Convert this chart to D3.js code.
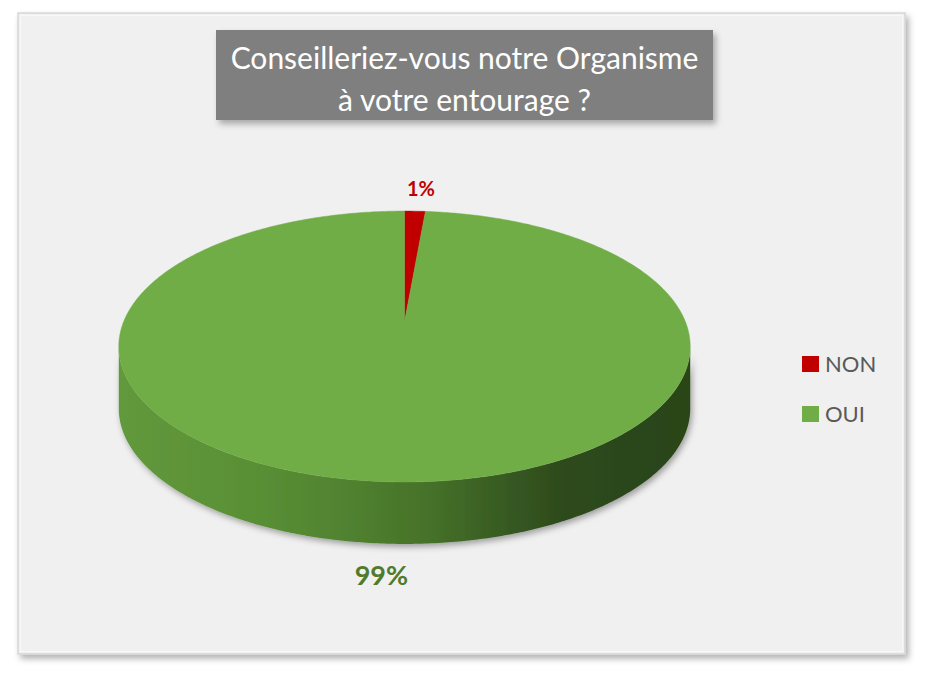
<!DOCTYPE html>
<html>
<head>
<meta charset="utf-8">
<script src="https://cdn.jsdelivr.net/npm/d3@7"></script>
<style>
  body { margin: 0; background: #ffffff; }
  svg { display: block; }
</style>
</head>
<body>
<div id="chart"></div>
<script>
// data
let categories = ["NON", "OUI"];
let values = [1.4, 98.6];
let colors = ["#c00000", "#70ad47"];
let title_lines = ["Conseilleriez-vous notre Organisme", "à votre entourage ?"];

let width = 928, height = 677;
let font = "Lato, 'Open Sans', sans-serif";

// 3d pie geometry (perspective fit to the picture)
let pie_cfg = { cx: 404.5, cy: 322, rx: 281, ry: 131, k: 0.181, depth: 62 };

let svg = d3.select("#chart").append("svg")
  .attr("width", width)
  .attr("height", height);

let defs = svg.append("defs");
let shadow = defs.append("filter").attr("id", "shadow")
  .attr("x", "-10%").attr("y", "-10%").attr("width", "130%").attr("height", "130%");
shadow.append("feDropShadow")
  .attr("dx", 3).attr("dy", 4).attr("stdDeviation", 3)
  .attr("flood-color", "#000").attr("flood-opacity", 0.3);

let pie_shadow = defs.append("filter").attr("id", "pie_shadow")
  .attr("x", "-10%").attr("y", "-10%").attr("width", "120%").attr("height", "130%");
pie_shadow.append("feDropShadow")
  .attr("dx", 2).attr("dy", 3).attr("stdDeviation", 3)
  .attr("flood-color", "#000").attr("flood-opacity", 0.35);

// wall shading, light on the left, dark on the right
let wall_grad = defs.append("linearGradient").attr("id", "wall_green")
  .attr("gradientUnits", "userSpaceOnUse")
  .attr("x1", pie_cfg.cx - 290).attr("x2", pie_cfg.cx + 290)
  .attr("y1", 0).attr("y2", 0);
[[0, "#62993c"], [0.25, "#598f35"], [0.42, "#4f802f"], [0.55, "#457029"],
 [0.67, "#375b22"], [0.78, "#2d491c"], [1, "#2b4419"]].forEach(s => {
  wall_grad.append("stop").attr("offset", s[0]).attr("stop-color", s[1]);
});

// chart area frame
svg.append("rect")
  .attr("x", 18).attr("y", 13)
  .attr("width", 887).attr("height", 641)
  .attr("fill", "#f0f0f0")
  .attr("stroke", "#d6d6d6")
  .attr("stroke-width", 1.5)
  .attr("filter", "url(#shadow)");
svg.append("rect")
  .attr("x", 20.5).attr("y", 15.5)
  .attr("width", 882).attr("height", 636)
  .attr("fill", "none")
  .attr("stroke", "#f8f8f8")
  .attr("stroke-width", 1);

// title box
let title_g = svg.append("g");
title_g.append("rect")
  .attr("x", 216).attr("y", 30)
  .attr("width", 497).attr("height", 90)
  .attr("fill", "#7f7f7f")
  .attr("filter", "url(#shadow)");
title_g.selectAll("text")
  .data(title_lines)
  .enter()
  .append("text")
  .attr("x", 464.5)
  .attr("y", (d, i) => 69 + i * 42)
  .attr("text-anchor", "middle")
  .attr("font-family", font)
  .attr("font-size", 30)
  .attr("fill", "#ffffff")
  .text(d => d);

// project an angle (clockwise from top) on the disc to the screen
function proj(a, r, z) {
  let { cx, cy, rx, ry, k } = pie_cfg;
  let u = Math.sin(a) * r, v = -Math.cos(a) * r;
  let s = 1 / (1 - k * v);
  return [cx + rx * u * s, cy + ry * v * s + z];
}
function arc_points(a0, a1, z) {
  let n = Math.max(2, Math.ceil(Math.abs(a1 - a0) / 0.01));
  return d3.range(n + 1).map(i => proj(a0 + (a1 - a0) * i / n, 1, z));
}
let line = d3.line();

let data = categories.map((c, i) => ({ name: c, value: values[i], color: colors[i] }));
let arcs = d3.pie().sort(null).value(d => d.value)(data);

// front walls are visible between the two horizontal extremes
let k = pie_cfg.k;
let front0 = Math.acos(-k), front1 = 2 * Math.PI - Math.acos(-k);

let walls = svg.append("g").attr("filter", "url(#pie_shadow)");
arcs.forEach(d => {
  let a0 = Math.max(d.startAngle, front0);
  let a1 = Math.min(d.endAngle, front1);
  if (a1 <= a0) return;
  let top_pts = arc_points(a0, a1, 0);
  let bot_pts = arc_points(a1, a0, pie_cfg.depth);
  walls.append("path")
    .attr("d", line(top_pts.concat(bot_pts)) + "Z")
    .attr("fill", d.data.name === "OUI" ? "url(#wall_green)" : d3.color(d.data.color).darker(0.8));
});

// top faces
let tops = svg.append("g");
arcs.forEach(d => {
  let center = proj(0, 0, 0);
  let pts = [center].concat(arc_points(d.startAngle, d.endAngle, 0));
  tops.append("path")
    .attr("d", line(pts) + "Z")
    .attr("fill", d.data.color)
    .attr("stroke", d.data.color)
    .attr("stroke-width", 0.5);
});

// data labels outside the pie
let label_size = [20, 27];
arcs.forEach((d, i) => {
  let mid = (d.startAngle + d.endAngle) / 2;
  let front = Math.cos(mid) < 0;
  let p = proj(mid, 1, front ? pie_cfg.depth : 0);
  svg.append("text")
    .attr("x", front ? p[0] - 8 : p[0] + 6)
    .attr("y", front ? p[1] + 41 : p[1] - 15)
    .attr("text-anchor", "middle")
    .attr("font-family", font)
    .attr("font-weight", "bold")
    .attr("font-size", label_size[i])
    .attr("fill", d.data.name === "OUI" ? "#4f7b2b" : d.data.color)
    .text(Math.round(d.value) + "%");
});

// legend
let legend = svg.append("g").attr("transform", "translate(802,356)");
let items = legend.selectAll("g")
  .data(data)
  .enter()
  .append("g")
  .attr("transform", (d, i) => "translate(0," + i * 50 + ")");
items.append("rect")
  .attr("width", 17).attr("height", 16)
  .attr("fill", d => d.color);
items.append("text")
  .attr("x", 23).attr("y", 16)
  .attr("font-family", font)
  .attr("font-size", 22)
  .attr("fill", "#595959")
  .text(d => d.name);
</script>
</body>
</html>
